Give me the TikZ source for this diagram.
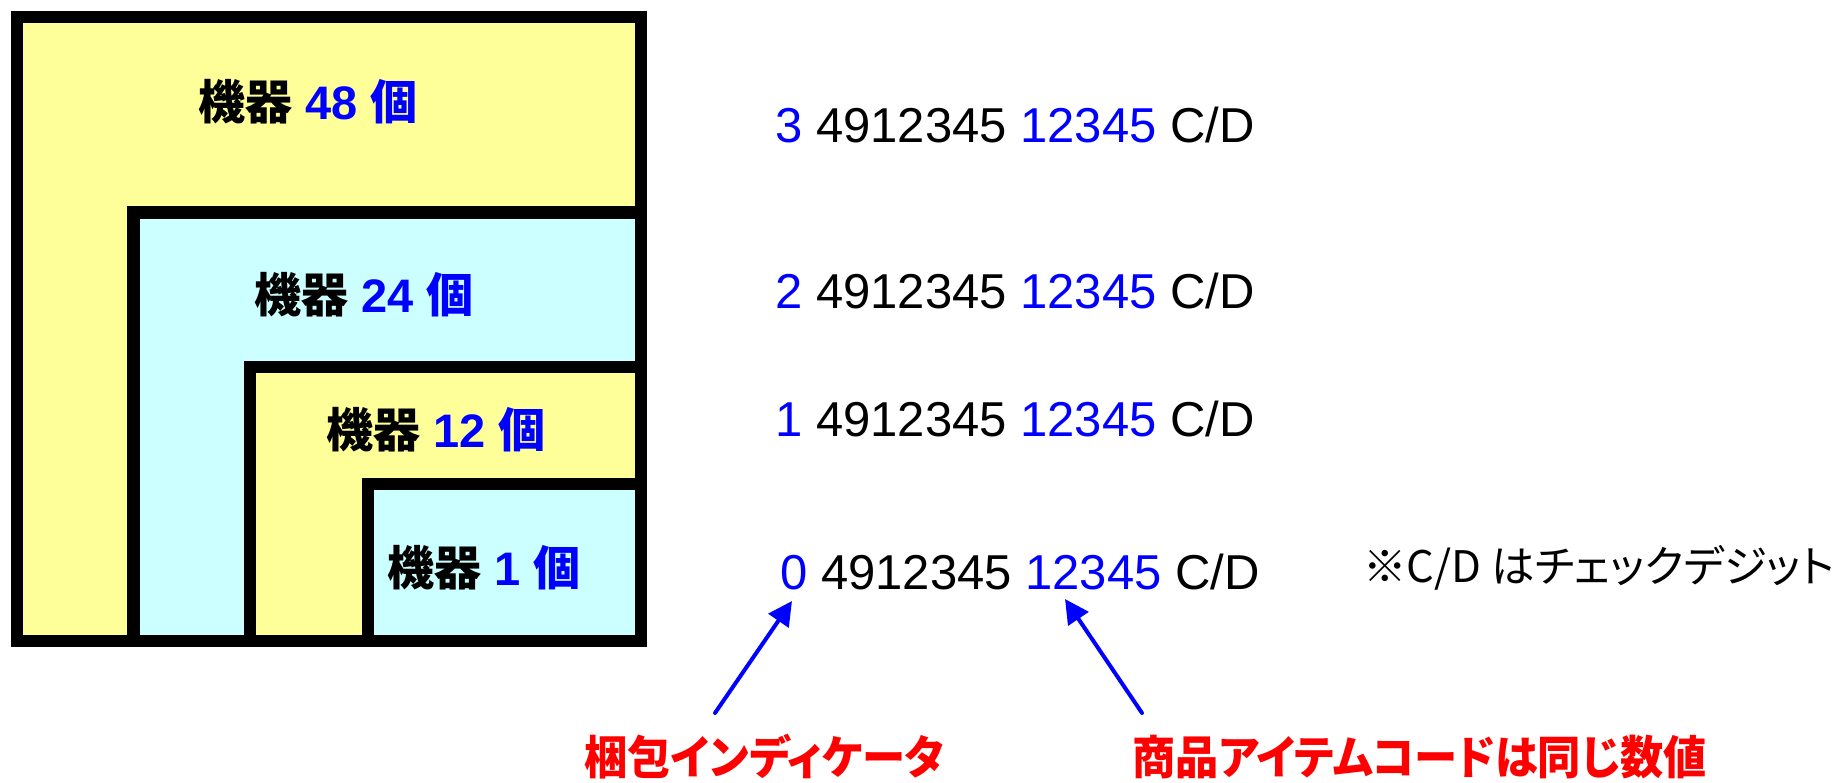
\documentclass[tikz,border=0pt]{standalone}
\usepackage{fontspec}
\setmainfont{Liberation Sans}
\newfontfamily\jp{Noto Sans CJK JP}
\newfontfamily\jpp{Noto Sans CJK JP}[RawFeature=+palt]
\newfontfamily\jpred{Noto Sans CJK JP}[RawFeature=+palt,FakeStretch=0.94]
\usetikzlibrary{arrows.meta}
\definecolor{boxyellow}{HTML}{FFFF99}
\definecolor{boxcyan}{HTML}{CCFFFF}
\definecolor{numblue}{HTML}{0000FF}
\definecolor{labelred}{HTML}{FF0000}
\begin{document}
\begin{tikzpicture}[x=1pt,y=-1pt,
  frame/.style={draw=black,line width=12.5pt,miter limit=10},
  boxlabel/.style={inner sep=0pt,font=\bfseries\fontsize{47}{52}\selectfont},
  coderow/.style={anchor=base west,inner sep=0pt,font=\fontsize{49}{58}\selectfont},
  redlabel/.style={inner sep=0pt,text=labelred,font=\jpred\bfseries\fontsize{46}{52}\selectfont},
  notelabel/.style={anchor=base west,inner sep=0pt,font=\jpp\fontsize{43.5}{50}\selectfont},
  pointer/.style={draw=numblue,line width=4pt,line cap=round,-{Triangle[length=24pt,width=24pt]}}
]
\useasboundingbox (0,0) rectangle (1842,782);
% nested boxes
\path[frame,fill=boxyellow] (17,17) rectangle (641,641);
\path[frame,fill=boxcyan] (133.7,212.5) rectangle (641,641);
\path[frame,fill=boxyellow] (250,367) rectangle (641,641);
\path[frame,fill=boxcyan] (368,484) rectangle (641,641);
% box labels
\node[boxlabel] (b48) at (308,102) {{\jp 機器} \textcolor{numblue}{48 {\jp 個}}};
\node[boxlabel] (b24) at (364,295) {{\jp 機器} \textcolor{numblue}{24 {\jp 個}}};
\node[boxlabel] (b12) at (436,430) {{\jp 機器} \textcolor{numblue}{12 {\jp 個}}};
\node[boxlabel] (b1) at (484,568) {{\jp 機器} \textcolor{numblue}{1 {\jp 個}}};
% code rows
\node[coderow] (r3) at (775,142) {\textcolor{numblue}{3} 4912345 \textcolor{numblue}{12345} C/D};
\node[coderow] (r2) at (775,308) {\textcolor{numblue}{2} 4912345 \textcolor{numblue}{12345} C/D};
\node[coderow] (r1) at (775,436) {\textcolor{numblue}{1} 4912345 \textcolor{numblue}{12345} C/D};
\node[coderow] (r0) at (780,589) {\textcolor{numblue}{0} 4912345 \textcolor{numblue}{12345} C/D};
\node[notelabel] (note) at (1363,582) {※C/D はチェックデジット};
% red labels
\node[redlabel] (lind) at (764.5,757) {梱包インディケータ};
\node[redlabel] (litem) at (1419.5,757) {商品アイテムコードは同じ数値};
% arrows
\coordinate (tipA) at (792,601);
\coordinate (tailA) at (715,713);
\coordinate (tipB) at (1065,599);
\coordinate (tailB) at (1142,713);
\draw[pointer] (tailA) -- (tipA);
\draw[pointer] (tailB) -- (tipB);
\end{tikzpicture}
\end{document}
